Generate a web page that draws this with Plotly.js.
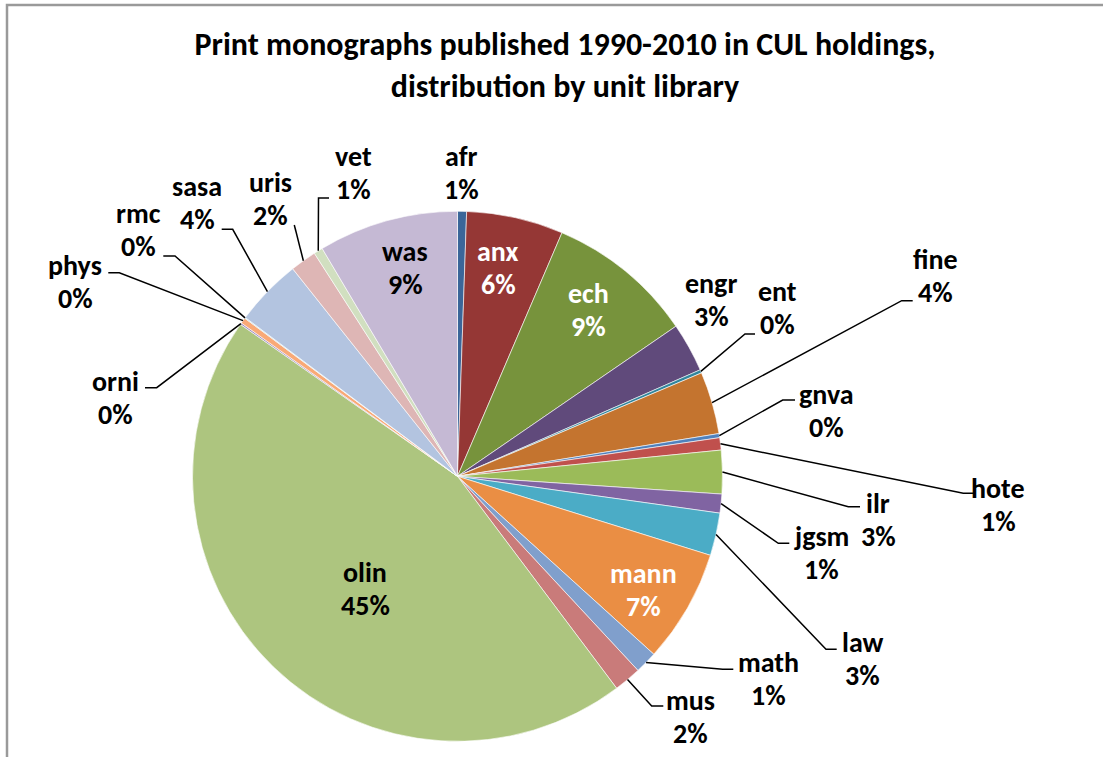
<!DOCTYPE html>
<html><head><meta charset="utf-8">
<script src="https://cdn.plot.ly/plotly-3.0.1.min.js"></script>
<style>html,body{margin:0;padding:0;background:#fff}#chart{width:1103px;height:757px}</style>
</head><body><div id="chart"></div>
<script>
// ---- data (percent share of holdings) ----
const libraries = ['afr','anx','ech','engr','ent','fine','gnva','hote','ilr','jgsm','law','mann','math','mus','olin','orni','phys','rmc','sasa','uris','vet','was'];
const shares    = [0.55, 5.9, 8.97, 3.0, 0.2, 3.8, 0.25, 0.75, 2.65, 1.15, 2.6, 6.9, 1.36, 1.67, 44.97, 0.1, 0.35, 0.05, 4.1, 1.6, 0.55, 8.53];
const sliceColors = ['#3B6699','#953735','#77933C','#604A7B','#31859C','#C4742F','#4F81BD','#C0504D','#9BBB59','#8064A2','#4BACC6','#EA8E44','#809FCC','#C97B7A','#ADC57F','#9E8BC0','#F9A977','#93CDDD','#B3C4E0','#DEB6B5','#D1DFC0','#C5B9D4'];
const titleText = 'Print monographs published 1990-2010 in CUL holdings,<br>distribution by unit library';

// ---- layout geometry (pixels) ----
const W = 1103, H = 757;
const CX = 457.5, CY = 476.3, R = 265;
const FONT = 'Carlito, Lato, "Liberation Sans", sans-serif';
const LABEL_SIZE = 28, LINE_GAP = 33;

// label block centres, text colour
const labelPos = {
  afr:[461,173], anx:[498,268,'#fff'], ech:[588,310,'#fff'], engr:[711,300], ent:[777,308],
  fine:[935,276], gnva:[826,411], hote:[998,505], ilr:[878,520], jgsm:[821,553],
  law:[862,659], mann:[643,590,'#fff'], math:[768,679], mus:[690,717], olin:[365,589],
  orni:[115,398], phys:[75,282], rmc:[138,230], sasa:[197,203], uris:[270,199],
  vet:[353,173], was:[405,268]
};
// leader lines: elbow point, end point (pixels)
const leaders = {
  vet:[[318.5,198],[329,198]], uris:[[294.3,225],[294.3,225]], sasa:[[232.7,229.3],[221.7,229.3]],
  rmc:[[175,256],[163.3,256]], phys:[[119.3,272.7],[108.3,272.7]], orni:[[156.7,387.7],[145,387.7]],
  ent:[[745,334],[755,334]], fine:[[901.7,300.7],[912.7,300.7]], gnva:[[782.7,400],[795,400]],
  hote:[[963.3,493.3],[975,493.3]], ilr:[[848.3,506.7],[860,506.7]], jgsm:[[778.3,543.3],[789.3,543.3]],
  law:[[826,649.3],[836.7,649.3]], math:[[722.7,669.3],[733.3,669.3]], mus:[[651.7,706],[663.3,706]]
};

const px = (x) => x / W;
const py = (y) => 1 - y / H;
const total = shares.reduce((a, b) => a + b, 0);

// mid-angle of each slice (clockwise from 12 o'clock)
const midAngles = [];
let acc = 0;
shares.forEach(v => { midAngles.push((acc + v / 2) / total * 2 * Math.PI); acc += v; });

const annotations = [];
libraries.forEach((name, i) => {
  const p = labelPos[name];
  const font = { family: FONT, size: LABEL_SIZE, color: p[2] || '#000', weight: 700 };
  const lines = [name, Math.round(shares[i] / total * 100) + '%'];
  lines.forEach((t, k) => annotations.push({
    x: px(p[0]), y: py(p[1] + (k === 0 ? -LINE_GAP / 2 : LINE_GAP / 2)),
    xref: 'paper', yref: 'paper', xanchor: 'center', yanchor: 'middle',
    showarrow: false, text: t, font
  }));
});

const shapes = [{
  type: 'rect', xref: 'paper', yref: 'paper',
  x0: px(7), x1: 1.05, y0: -0.05, y1: py(5),
  line: { color: '#9A9A9A', width: 2.5 }, fillcolor: 'rgba(0,0,0,0)', layer: 'below'
}];
libraries.forEach((name, i) => {
  if (!leaders[name]) return;
  const a = midAngles[i];
  const ax = CX + R * Math.sin(a), ay = CY - R * Math.cos(a);
  const [e, t] = leaders[name];
  shapes.push({
    type: 'path', xref: 'paper', yref: 'paper',
    path: `M ${px(ax)},${py(ay)} L ${px(e[0])},${py(e[1])} L ${px(t[0])},${py(t[1])}`,
    line: { color: '#000', width: 1.5 }
  });
});

const trace = {
  type: 'pie', labels: libraries, values: shares, sort: false,
  direction: 'clockwise', rotation: 0, textinfo: 'none', hoverinfo: 'label+percent',
  marker: { colors: sliceColors, line: { color: '#ffffff', width: 0.6 } },
  domain: { x: [px(CX - R), px(CX + R)], y: [py(CY + R), py(CY - R)] },
  showlegend: false
};

const layout = {
  width: W, height: H, margin: { l: 0, r: 0, t: 0, b: 0 },
  paper_bgcolor: '#fff', plot_bgcolor: '#fff', showlegend: false,
  title: { text: titleText, x: 565 / W, xref: 'container', xanchor: 'center',
           y: 1 - 55 / H, yref: 'container', yanchor: 'middle',
           font: { family: FONT, size: 32, color: '#000', weight: 700 } },
  annotations, shapes
};
Plotly.newPlot('chart', [trace], layout, { displayModeBar: false, staticPlot: true });
</script></body></html>
